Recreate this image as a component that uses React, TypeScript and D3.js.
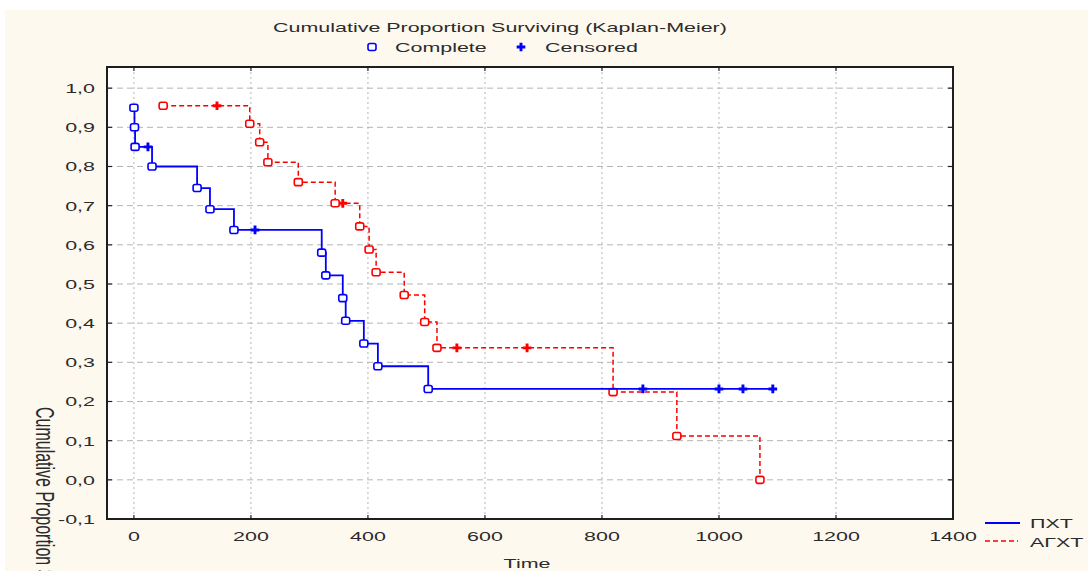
import * as d3 from 'd3';

// ПХТ group (blue, solid)
const pxtTimes = [0, 1, 2, 31, 108, 130, 171, 321, 328, 357, 362, 393, 417, 503];
const pxtSurv = [0.95, 0.9, 0.85, 0.8, 0.745, 0.691, 0.638, 0.58, 0.522, 0.464, 0.406, 0.348, 0.29, 0.232];
const pxtCensored = [24, 207, 870, 1000, 1041, 1092];

// АГХТ group (red, dashed)
const agxtTimes = [50, 198, 215, 229, 281, 344, 386, 402, 414, 462, 497, 518, 819, 928, 1070];
const agxtSurv = [0.955, 0.909, 0.862, 0.811, 0.76, 0.706, 0.647, 0.588, 0.53, 0.472, 0.403, 0.337, 0.224, 0.112, 0.0];
const agxtCensored = [142, 357, 552, 672];

const xTicks = [0, 200, 400, 600, 800, 1000, 1200, 1400];
const yTicks = [-0.1, 0, 0.1, 0.2, 0.3, 0.4, 0.5, 0.6, 0.7, 0.8, 0.9, 1.0];

const W = 1088;
const H = 571;
const left = 107, right = 953, top = 67, bottom = 519;
const SX = 1.65; // horizontal stretch of the original bitmap text
const font = "'Liberation Sans', Arial, sans-serif";
const textCol = '#2b2b2b';

const x = d3.scaleLinear().domain([-46, 1400]).range([left, right]);
const y = d3.scaleLinear().domain([-0.1, 1.054]).range([bottom, top]);

function stepPath(times: number[], surv: number[], cens: number[]) {
  const p = d3.path();
  p.moveTo(x(times[0]), y(surv[0]));
  for (let i = 1; i < times.length; i++) {
    p.lineTo(x(times[i]), y(surv[i - 1]));
    p.lineTo(x(times[i]), y(surv[i]));
  }
  const lastC = d3.max(cens) ?? 0;
  if (lastC > times[times.length - 1]) p.lineTo(x(lastC), y(surv[surv.length - 1]));
  return p.toString();
}

function survAt(times: number[], surv: number[], t: number) {
  const i = d3.bisectRight(times, t) - 1;
  return surv[Math.max(0, i)];
}

const cross = d3.symbol().type(d3.symbolCross).size(42)();

function Txt({ x0, y0, s, size = 13, anchor = 'start', fill = textCol }:
  { x0: number; y0: number; s: string; size?: number; anchor?: string; fill?: string }) {
  return (
    <text transform={`translate(${x0},${y0}) scale(${SX},1)`} fontFamily={font}
      fontSize={size} textAnchor={anchor} fill={fill}>{s}</text>
  );
}

function Square({ cx, cy, color }: { cx: number; cy: number; color: string }) {
  return <rect x={cx - 4} y={cy - 3.5} width={8} height={7} rx={2} fill="white" stroke={color} strokeWidth={1.6} />;
}

function Series({ times, surv, cens, color, dash }:
  { times: number[]; surv: number[]; cens: number[]; color: string; dash?: string }) {
  return (
    <g>
      <path d={stepPath(times, surv, cens)} fill="none" stroke={color} strokeWidth={dash ? 1.5 : 1.8} strokeDasharray={dash} />
      {cens.map((t, i) => (
        <path key={'c' + i} d={cross} transform={`translate(${x(t)},${y(survAt(times, surv, t))})`} fill={color} />
      ))}
      {times.map((t, i) => <Square key={i} cx={x(t)} cy={y(surv[i])} color={color} />)}
    </g>
  );
}

export default function App() {
  const fmt = (v: number) => v.toFixed(1).replace('.', ',');
  return (
    <svg width={W} height={H} style={{ position: 'absolute', left: 0, top: 0 }}>
      <rect x={0} y={0} width={W} height={H} fill="white" />
      <rect x={5} y={10} width={W - 5} height={H - 10} fill="#fef9ef" />
      <rect x={left} y={top} width={right - left} height={bottom - top} fill="white" />

      {/* grid */}
      {yTicks.filter(v => v > -0.05).map(v => (
        <line key={'gy' + v} x1={left} x2={right} y1={y(v)} y2={y(v)} stroke="#b5b5b5" strokeWidth={1} strokeDasharray="6,4" />
      ))}
      {xTicks.filter(v => v < 1400).map(v => (
        <line key={'gx' + v} x1={x(v)} x2={x(v)} y1={top} y2={bottom} stroke="#b5b5b5" strokeWidth={1} strokeDasharray="2,3" />
      ))}

      {/* ticks inside frame */}
      {yTicks.map(v => (
        <g key={'ty' + v}>
          <line x1={left} x2={left + 5} y1={y(v)} y2={y(v)} stroke="#222" strokeWidth={1.2} />
          <line x1={right - 5} x2={right} y1={y(v)} y2={y(v)} stroke="#222" strokeWidth={1.2} />
        </g>
      ))}
      {xTicks.map(v => (
        <g key={'tx' + v}>
          <line x1={x(v)} x2={x(v)} y1={bottom - 4} y2={bottom} stroke="#222" strokeWidth={1.2} />
          <line x1={x(v)} x2={x(v)} y1={top} y2={top + 4} stroke="#222" strokeWidth={1.2} />
        </g>
      ))}

      <Series times={agxtTimes} surv={agxtSurv} cens={agxtCensored} color="#ff0000" dash="5,3" />
      <Series times={pxtTimes} surv={pxtSurv} cens={pxtCensored} color="#0000ff" />

      <rect x={left} y={top} width={right - left} height={bottom - top} fill="none" stroke="#1e1e1e" strokeWidth={2} />

      {/* tick labels */}
      {yTicks.map(v => <Txt key={'ly' + v} x0={95} y0={y(v) + 5} s={fmt(v)} anchor="end" />)}
      {xTicks.map(v => <Txt key={'lx' + v} x0={x(v)} y0={541} s={String(v)} anchor="middle" />)}

      <Txt x0={527} y0={568} s="Time" anchor="middle" />
      <text transform={`translate(36,407) scale(${SX},1) rotate(90)`} fontFamily={font} fontSize={16} fill={textCol}>
        Cumulative Proportion Surviving
      </text>

      {/* title + marker legend */}
      <Txt x0={500} y0={32} s="Cumulative Proportion Surviving (Kaplan-Meier)" anchor="middle" />
      <Square cx={372} cy={47} color="#0000ff" />
      <Txt x0={395} y0={52} s="Complete" />
      <path d={cross} transform="translate(521,47)" fill="#0000ff" />
      <Txt x0={545} y0={52} s="Censored" />

      {/* group legend */}
      <line x1={985} x2={1020} y1={523} y2={523} stroke="#0000ff" strokeWidth={1.8} />
      <Txt x0={1030} y0={528} s="ПХТ" />
      <line x1={985} x2={1018} y1={541} y2={541} stroke="#ff0000" strokeWidth={1.5} strokeDasharray="5,3" />
      <Txt x0={1030} y0={547} s="АГХТ" />
    </svg>
  );
}
